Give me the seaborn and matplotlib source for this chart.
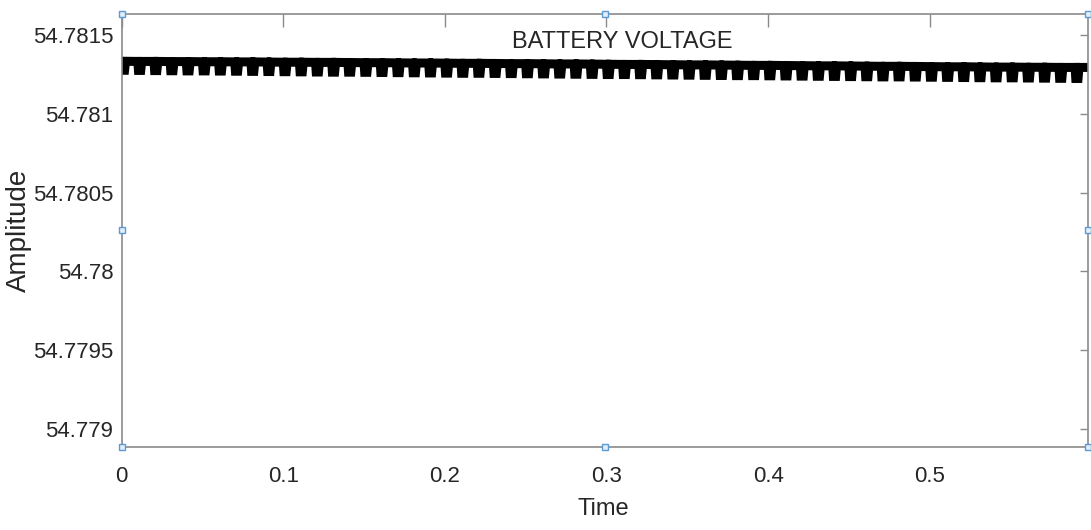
import numpy as np
import pandas as pd
import seaborn as sns
from matplotlib import pyplot as plt


# start time of each ripple cycle (s)
cycle_start = [
    0.00, 0.01, 0.02, 0.03, 0.04, 0.05, 0.06, 0.07, 0.08, 0.09,
    0.10, 0.11, 0.12, 0.13, 0.14, 0.15, 0.16, 0.17, 0.18, 0.19,
    0.20, 0.21, 0.22, 0.23, 0.24, 0.25, 0.26, 0.27, 0.28, 0.29,
    0.30, 0.31, 0.32, 0.33, 0.34, 0.35, 0.36, 0.37, 0.38, 0.39,
    0.40, 0.41, 0.42, 0.43, 0.44, 0.45, 0.46, 0.47, 0.48, 0.49,
    0.50, 0.51, 0.52, 0.53, 0.54, 0.55, 0.56, 0.57, 0.58, 0.59,
]

# upper level of the ripple in each cycle (V)
high_level = [
    54.781333, 54.781332, 54.781332, 54.781331, 54.781331, 54.781330, 54.781330, 54.781329, 54.781329, 54.781328,
    54.781327, 54.781327, 54.781326, 54.781326, 54.781325, 54.781324, 54.781324, 54.781323, 54.781322, 54.781322,
    54.781321, 54.781320, 54.781320, 54.781319, 54.781318, 54.781318, 54.781317, 54.781316, 54.781316, 54.781315,
    54.781314, 54.781313, 54.781313, 54.781312, 54.781311, 54.781310, 54.781310, 54.781309, 54.781308, 54.781307,
    54.781307, 54.781306, 54.781305, 54.781304, 54.781304, 54.781303, 54.781302, 54.781301, 54.781301, 54.781300,
    54.781299, 54.781298, 54.781298, 54.781297, 54.781296, 54.781296, 54.781295, 54.781295, 54.781294, 54.781294,
]

# lower level of the dip in each cycle (V)
low_level = [
    54.781276, 54.781275, 54.781274, 54.781273, 54.781272, 54.781272, 54.781271, 54.781270, 54.781269, 54.781268,
    54.781267, 54.781266, 54.781265, 54.781264, 54.781264, 54.781263, 54.781262, 54.781261, 54.781260, 54.781259,
    54.781258, 54.781257, 54.781257, 54.781256, 54.781255, 54.781254, 54.781253, 54.781252, 54.781251, 54.781250,
    54.781249, 54.781249, 54.781248, 54.781247, 54.781246, 54.781245, 54.781244, 54.781243, 54.781242, 54.781242,
    54.781241, 54.781240, 54.781239, 54.781238, 54.781237, 54.781236, 54.781235, 54.781234, 54.781234, 54.781233,
    54.781232, 54.781231, 54.781230, 54.781229, 54.781228, 54.781228, 54.781227, 54.781226, 54.781225, 54.781224,
]

y_ticks = [54.779, 54.7795, 54.78, 54.7805, 54.781, 54.7815]
y_tick_labels = ["54.779", "54.7795", "54.78", "54.7805", "54.781", "54.7815"]
x_ticks = [0, 0.1, 0.2, 0.3, 0.4, 0.5]
x_tick_labels = ["0", "0.1", "0.2", "0.3", "0.4", "0.5"]


def build_wave() -> pd.DataFrame:
    # each cycle: short dip at the start, then back on the upper level
    t, v = [], []
    for t0, hi, lo in zip(cycle_start, high_level, low_level):
        t += [t0, t0 + 0.0004, t0 + 0.0018, t0 + 0.0024]
        v += [hi, lo, lo, hi]
    t.append(0.598)
    v.append(high_level[-1])
    return pd.DataFrame({"Time": t, "Amplitude": v})


def main() -> None:
    sns.set_theme(style="white")
    plt.rcParams["font.family"] = ["Liberation Sans Narrow", "Liberation Sans", "DejaVu Sans"]

    fig = plt.figure(figsize=(10.91, 5.30), dpi=100)
    ax = fig.add_axes([0.1115, 0.1566, 0.8858, 0.8170])

    df = build_wave()
    sns.lineplot(
        data=df, x="Time", y="Amplitude", ax=ax, sort=False, estimator=None,
        color="black", linewidth=6.5, solid_joinstyle="miter", solid_capstyle="butt",
    )

    ax.set_xlim(0, 0.598)
    ax.set_ylim(54.778886, 54.781633)
    ax.set_xticks(x_ticks)
    ax.set_xticklabels(x_tick_labels)
    ax.set_yticks(y_ticks)
    ax.set_yticklabels(y_tick_labels)

    grey = "#8a8a8a"
    for side in ["left", "right", "top", "bottom"]:
        ax.spines[side].set_visible(True)
        ax.spines[side].set_color(grey)
        ax.spines[side].set_linewidth(1.2)
    ax.tick_params(axis="both", direction="in", top=True, right=True,
                   color=grey, width=1.0, labelcolor="#262626", labelsize=16)
    ax.tick_params(axis="x", length=9, pad=14)
    ax.tick_params(axis="y", length=6, pad=6)

    ax.set_xlabel("Time", fontsize=17, color="#262626")
    ax.set_ylabel("Amplitude", fontsize=20, color="#262626")
    ax.xaxis.set_label_coords(0.498, -0.118)
    ax.yaxis.set_label_coords(-0.093, 0.5)

    ax.text(0.5176, 0.935, "BATTERY VOLTAGE", transform=ax.transAxes,
            ha="center", va="center", fontsize=17, color="#262626")

    # figure-editor selection handles
    hx = [0, 0.5, 1, 0, 1, 0, 0.5, 1]
    hy = [0, 0, 0, 0.5, 0.5, 1, 1, 1]
    ax.plot(hx, hy, linestyle="none", marker="s", markersize=4.5,
            markerfacecolor="#e3eef9", markeredgecolor="#5b9bd5",
            markeredgewidth=1.0, transform=ax.transAxes, clip_on=False, zorder=5)

    fig.savefig("out.png", dpi=100)
    plt.close(fig)


if __name__ == "__main__":
    main()
